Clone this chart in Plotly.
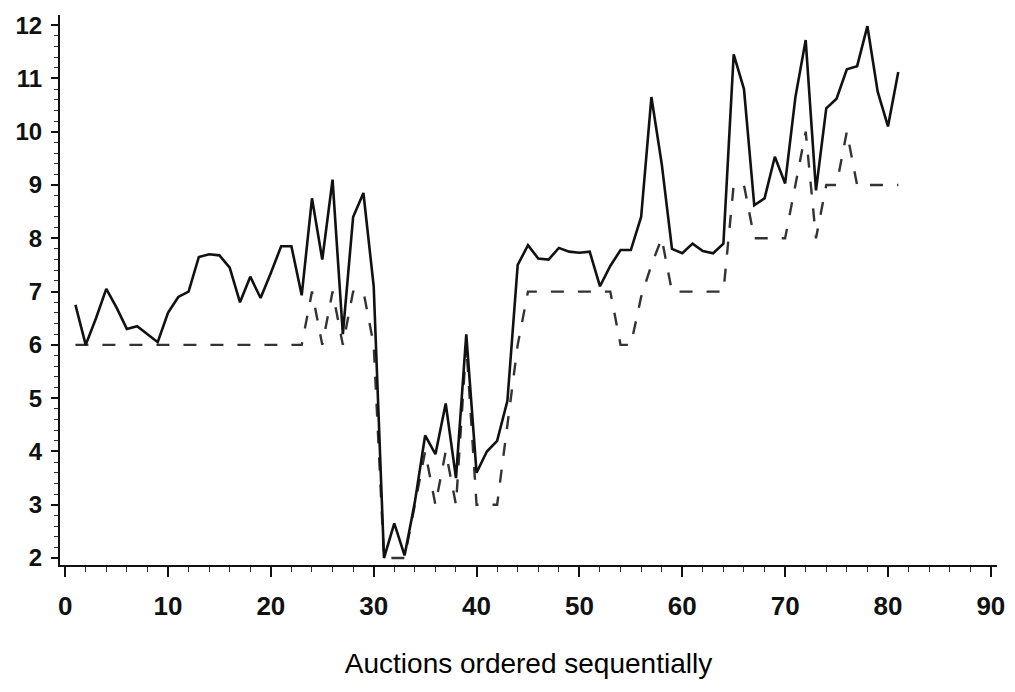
import plotly.graph_objects as go

auction = list(range(1, 82))

solid_values = [
    6.75, 6.0, 6.5, 7.05, 6.7, 6.3, 6.35, 6.2, 6.05, 6.6,
    6.9, 7.0, 7.65, 7.7, 7.68, 7.45, 6.8, 7.28, 6.88, 7.35,
    7.85, 7.85, 6.93, 8.75, 7.6, 9.1, 6.2, 8.4, 8.85, 7.1,
    2.0, 2.65, 2.05, 3.05, 4.3, 3.95, 4.9, 3.5, 6.2, 3.6,
    4.0, 4.2, 4.95, 7.5, 7.87, 7.62, 7.6, 7.82, 7.75, 7.73,
    7.75, 7.1, 7.48, 7.78, 7.78, 8.4, 10.65, 9.4, 7.8, 7.72,
    7.9, 7.76, 7.72, 7.9, 11.45, 10.8, 8.62, 8.75, 9.53, 9.03,
    10.65, 11.72, 8.9, 10.44, 10.62, 11.17, 11.23, 11.98, 10.75, 10.1,
    11.12,
]

dashed_values = [
    6, 6, 6, 6, 6, 6, 6, 6, 6, 6,
    6, 6, 6, 6, 6, 6, 6, 6, 6, 6,
    6, 6, 6, 7, 6, 7, 6, 7, 7, 6,
    2, 2, 2, 3, 4, 3, 4, 3, 6, 3,
    3, 3, 4.5, 6, 7, 7, 7, 7, 7, 7,
    7, 7, 7, 6, 6, 6.9, 7.5, 8, 7, 7,
    7, 7, 7, 7, 9, 9, 8, 8, 8, 8,
    9, 10, 8, 9, 9, 10, 9, 9, 9, 9,
    9,
]

x_tick_values = [0, 10, 20, 30, 40, 50, 60, 70, 80, 90]
y_tick_values = [2, 3, 4, 5, 6, 7, 8, 9, 10, 11, 12]
x_title = "Auctions ordered sequentially"

fig = go.Figure()
fig.add_trace(go.Scatter(
    x=auction, y=dashed_values, mode="lines",
    line=dict(color="#333333", width=2.4, dash="13px,14px"),
    showlegend=False,
))
fig.add_trace(go.Scatter(
    x=auction, y=solid_values, mode="lines",
    line=dict(color="#111111", width=2.6),
    showlegend=False,
))

fig.update_layout(
    width=1007, height=684,
    margin=dict(l=52, r=18, t=7, b=127),
    paper_bgcolor="white", plot_bgcolor="white",
    font=dict(family="Liberation Sans, Arial, sans-serif", color="#111111"),
)
fig.update_xaxes(
    range=[-0.5, 90.6], tickmode="array", tickvals=x_tick_values,
    ticks="outside", ticklen=10, tickwidth=1.5, tickcolor="#111111",
    minor=dict(dtick=2, tick0=0, ticks="outside", ticklen=5, tickwidth=1, tickcolor="#333333"),
    showline=True, linecolor="#111111", linewidth=2,
    showgrid=False, zeroline=False, automargin=False,
    tickfont=dict(size=26, family="Liberation Sans, Arial, sans-serif", weight="bold"),
    ticklabelstandoff=7,
    title=dict(text=x_title, font=dict(size=28, color="#000000"), standoff=33),
)
fig.update_yaxes(
    range=[1.87, 12.19], tickmode="array", tickvals=y_tick_values,
    ticks="outside", ticklen=7, tickwidth=1.5, tickcolor="#111111",
    minor=dict(dtick=0.2, tick0=2, ticks="outside", ticklen=4, tickwidth=1, tickcolor="#333333"),
    showline=True, linecolor="#111111", linewidth=2,
    showgrid=False, zeroline=False, automargin=False,
    tickfont=dict(size=24, family="Liberation Sans, Arial, sans-serif", weight="bold"),
    ticklabelstandoff=4,
)

fig.write_html("out.html")
